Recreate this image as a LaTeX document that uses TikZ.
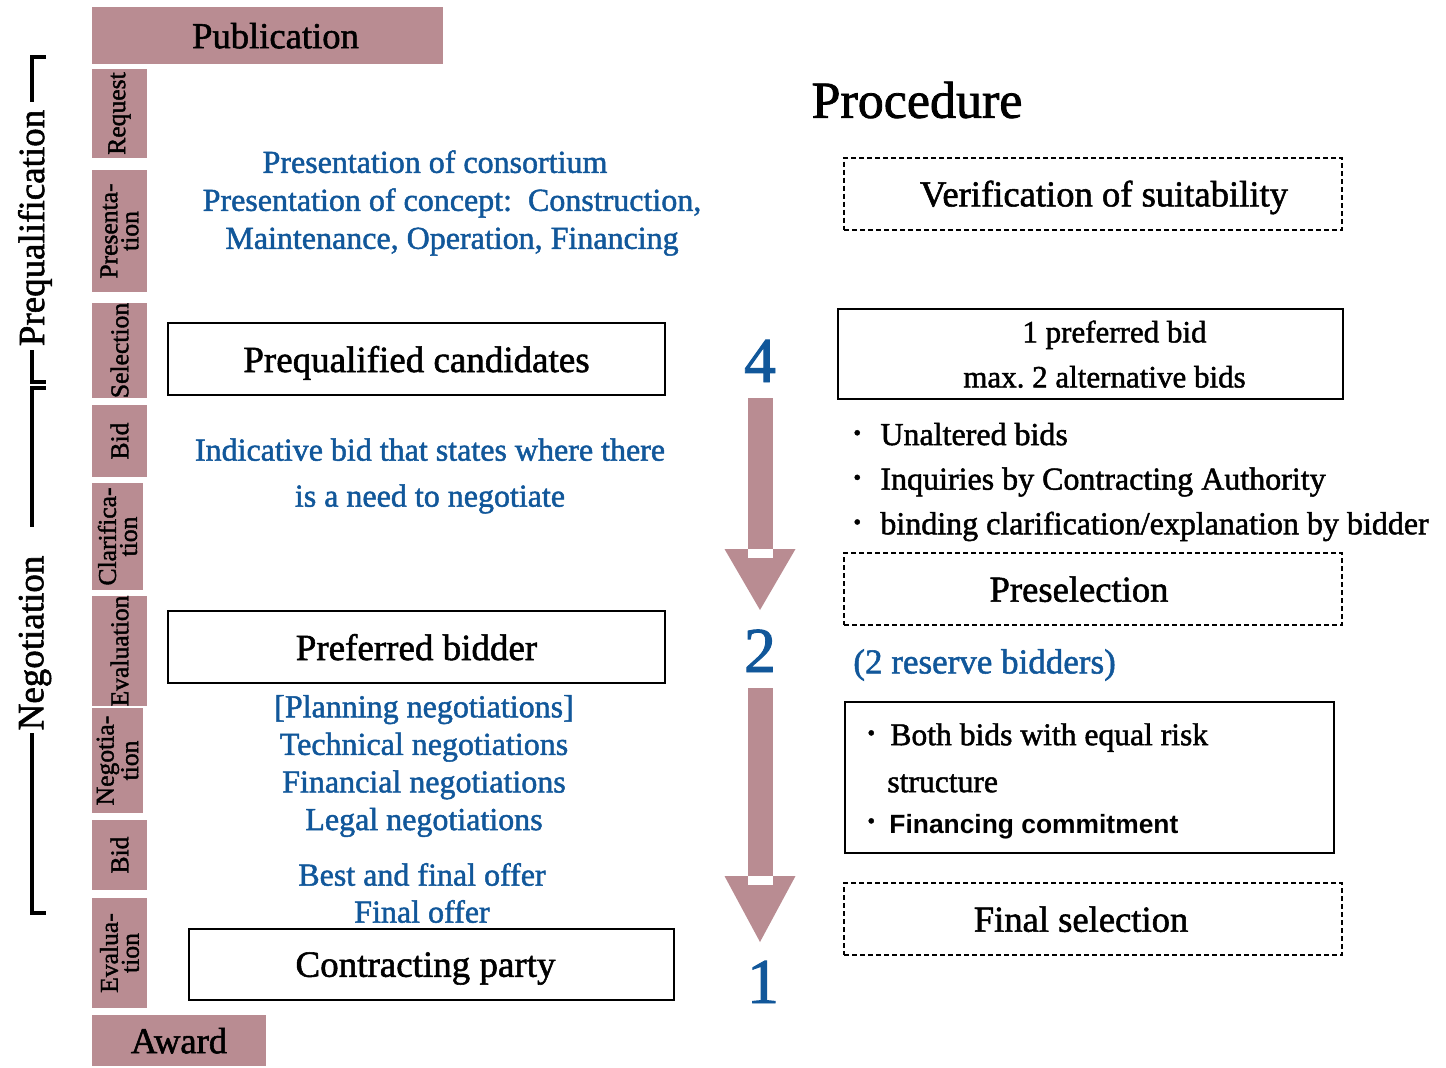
\documentclass[tikz,border=0pt]{standalone}
\usepackage{fontspec}
\setmainfont{Liberation Serif}[FakeBold=1.5]
\setsansfont{Liberation Sans}
\usetikzlibrary{
  arrows.meta,
  positioning,
  calc
}
\definecolor{StageRose}{HTML}{B98C92}
\definecolor{NoteBlue}{HTML}{11579A}
\newcommand{\bitem}[1][13.5pt]{\makebox[#1][l]{\raisebox{2.5pt}{\fontsize{11}{11}\selectfont\textbullet}}}
\tikzset{
  % Stage tab on the left edge (text turned upwards)
  stage/.style={
    rectangle, fill=StageRose, rotate=90,
    minimum height=27.5pt, inner sep=0pt,
    align=center, font=\fontsize{12.8}{10.5}\selectfont
  },
  % Wide rose banner
  banner/.style={
    rectangle, fill=StageRose, inner sep=0pt, text depth=0pt,
    font=\fontsize{18.3}{20}\selectfont
  },
  % Result box
  res/.style={
    rectangle, draw=black, line width=0.7pt,
    minimum height=36pt, inner sep=0pt, text depth=0pt,
    font=\fontsize{18.5}{20}\selectfont
  },
  % Decision step box
  dsh/.style={
    rectangle, draw=black, line width=1pt,
    dash pattern=on 2.5pt off 1.5pt, text depth=0pt,
    minimum width=249pt, minimum height=36pt,
    font=\fontsize{18.3}{20}\selectfont
  },
  % Blue explanatory text
  note/.style={
    text=NoteBlue, align=center, inner sep=0pt,
    font=\fontsize{16}{19}\selectfont
  },
  % Criteria list
  crit/.style={
    anchor=west, align=left, inner sep=0pt,
    font=\fontsize{16}{22.3}\selectfont
  },
  % Phase bracket
  brk/.style={line width=2.2pt},
  % Phase name
  phase/.style={rotate=90, inner sep=0pt, font=\fontsize{18.5}{20}\selectfont},
  % Count of bidders
  cnt/.style={
    text=NoteBlue, anchor=base, inner sep=0pt,
    font=\fontsize{32}{32}\selectfont
  },
  % Wide down arrow
  down/.style={
    -{Triangle[length=#1,width=35.5pt,line width=0pt]},
    line width=12.5pt, color=StageRose, shorten <=8pt
  },
  down/.default=30.5pt
}

\begin{document}
\begin{tikzpicture}[x=0.5pt, y=-0.5pt]
  \useasboundingbox (0,0) rectangle (1446,1067);

  % phases
  \draw[brk] (46,57) -| (32,102);
  \draw[brk] (32,350) |- (46,382);
  \node[phase] (preq) at (35,228) {Prequalification};
  \draw[brk] (46,388) -| (32,527);
  \draw[brk] (32,733) |- (46,913);
  \node[phase] (nego) at (35,643) {Negotiation};

  % stages
  \node[banner, minimum width=175.5pt, minimum height=28.5pt] (pub) at (267.5,35.5) {\hspace*{8pt}Publication};
  \node[stage, minimum width=44.5pt] (req)   at (119.5,113.5) {Request};
  \node[stage, minimum width=61pt]   (pres)  at (119.5,231)   {Presenta-\\tion};
  \node[stage, minimum width=46.5pt] (sel)   at (119.5,350.5) {Selection};
  \node[stage, minimum width=36pt]   (bida)  at (119.5,441)   {Bid};
  \node[stage, minimum width=53.5pt, minimum height=25.5pt] (clar) at (117.5,536.5) {Clarifica-\\tion};
  \node[stage, minimum width=55pt]   (evala) at (119.5,651)   {Evaluation};
  \node[stage, minimum width=52.5pt, minimum height=25.5pt] (negs) at (117.5,760.5) {Negotia-\\tion};
  \node[stage, minimum width=35pt]   (bidb)  at (119.5,855)   {Bid};
  \node[stage, minimum width=55pt]   (evalb) at (119.5,953)   {Evalua-\\tion};
  \node[banner, minimum width=87pt, minimum height=25.5pt] (award) at (179,1040.5) {Award};

  % middle column
  \node[note] (consort) at (452,203) {Presentation of consortium\hspace*{17pt}\\Presentation of concept:\ \ Construction,\\Maintenance, Operation, Financing};
  \node[res, minimum width=248.5pt] (cand) at (416.5,359) {Prequalified candidates};
  \node[note, font=\fontsize{16}{23}\selectfont] (indic) at (430,476) {Indicative bid that states where there\\is a need to negotiate};
  \node[res, minimum width=248.5pt] (prefb) at (416.5,647) {Preferred bidder};
  \node[note, font=\fontsize{16}{18.8}\selectfont] (negot) at (424,766) {[Planning negotiations]\\Technical negotiations\\Financial negotiations\\Legal negotiations};
  \node[note, font=\fontsize{16}{18.5}\selectfont] (offer) at (422,893) {Best and final offer\\Final offer};
  \node[res, minimum width=242.5pt, minimum height=35.5pt] (party) at (431.5,964.5) {Contracting party\hspace*{6pt}};

  % counts and arrows
  \node[cnt] (n4) at (760,382)  {4};
  \node[cnt] (n2) at (760,672)  {2};
  \node[cnt] (n1) at (763,1003) {1};
  \coordinate (tipa) at (760,610);
  \coordinate (tipb) at (760,942);
  \draw[down] (n4) -- (tipa);
  \draw[down=33pt] (n2) -- (tipb);
  \fill[white] ($(tipa)+(-12.5,-61)$) rectangle ($(tipa)+(12.5,-52)$);
  \fill[white] ($(tipb)+(-12.5,-66)$) rectangle ($(tipb)+(12.5,-57)$);

  % right column
  \node[font=\fontsize{26}{30}\selectfont] (proc) at (917,100) {Procedure};
  \node[dsh] (verif) at (1093,193.5) {\hspace*{11pt}Verification of suitability};
  \node[res, minimum width=252.5pt, minimum height=45pt, align=center,
        font=\fontsize{15.5}{22.5}\selectfont] (bids) at (1090.5,354) {\hspace*{24pt}1 preferred bid\\\hspace*{14pt}max.~2 alternative bids};
  \node[crit] (unalt) at (853,482) {\bitem Unaltered bids\\\bitem Inquiries by Contracting Authority\\\bitem binding clarification/explanation by bidder};
  \node[dsh] (presel) at (1093,589) {Preselection\hspace*{14pt}};
  \node[note, anchor=west, font=\fontsize{17.5}{20}\selectfont] (resv) at (853,665) {(2 reserve bidders)};
  \node[res, minimum width=244.5pt, minimum height=75.5pt] (riskbox) at (1089.5,777.5) {};
  \node[crit, font=\fontsize{15.8}{23.5}\selectfont] (risk) at (867,781) {\bitem[11.5pt]Both bids with equal risk\\\hspace*{10pt}structure\\[-3pt]\bitem[11pt]{\sffamily\bfseries\fontsize{13.2}{14}\selectfont Financing commitment}};
  \node[dsh] (final) at (1093,919) {Final selection\hspace*{12pt}};
\end{tikzpicture}
\end{document}
